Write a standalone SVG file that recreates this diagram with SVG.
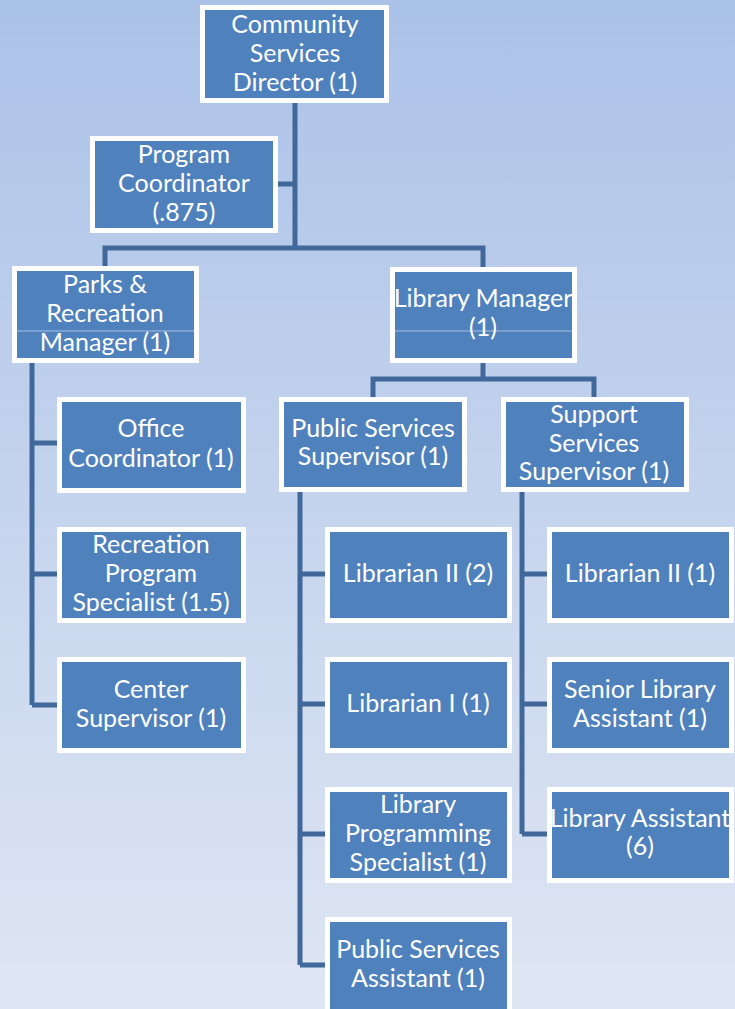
<svg xmlns="http://www.w3.org/2000/svg" width="735" height="1009" viewBox="0 0 735 1009">
<defs>
<linearGradient id="bg" x1="0" y1="0" x2="0" y2="1">
<stop offset="0" stop-color="#abc2e8"/>
<stop offset="1" stop-color="#dfe6f3"/>
</linearGradient>
</defs>
<style>
.box{fill:#4f81bd;stroke:#ffffff;stroke-width:5}
.sep{stroke:#a7c0e4;stroke-width:1}
.lbl{font-family:Lato,"Liberation Sans",sans-serif;font-size:25px;fill:#ffffff;text-anchor:middle}
.con{fill:none;stroke:#41689a;stroke-width:5;stroke-linejoin:miter}
</style>
<rect width="735" height="1009" fill="url(#bg)"/>
<g id="connectors">
<path class="con" d="M295 100 V248 M278 184 H295 M105 266 V248 H483 V267"/>
<path class="con" d="M483 361 V379 M373 397 V379 H594 V397"/>
<path class="con" d="M32 361 V705 M32 443 H57 M32 574 H57 M32 705 H57"/>
<path class="con" d="M300 490 V965 M300 574 H325 M300 704 H325 M300 834 H325 M300 965 H325"/>
<path class="con" d="M522 490 V834 M522 574 H547 M522 704 H547 M522 834 H547"/>
</g>
<g id="director"><rect class="box" x="202.5" y="7.5" width="184" height="93"/>
<text class="lbl" x="295" y="33">Community</text><text class="lbl" x="295" y="62">Services</text><text class="lbl" x="295" y="91">Director (1)</text></g>
<g id="program-coordinator"><rect class="box" x="92.5" y="138.5" width="183" height="92"/>
<text class="lbl" x="184" y="163">Program</text><text class="lbl" x="184" y="192">Coordinator</text><text class="lbl" x="184" y="221">(.875)</text></g>
<g id="parks-manager"><rect class="box" x="14.5" y="268.5" width="182" height="92"/>
<line class="sep" x1="17" y1="331" x2="194" y2="331"/>
<text class="lbl" x="105" y="293">Parks &amp;</text><text class="lbl" x="105" y="322">Recreation</text><text class="lbl" x="105" y="351">Manager (1)</text></g>
<g id="library-manager"><rect class="box" x="392.5" y="269.5" width="182" height="91"/>
<line class="sep" x1="395" y1="331" x2="572" y2="331"/>
<text class="lbl" x="483" y="307">Library Manager</text><text class="lbl" x="483" y="336">(1)</text></g>
<g id="public-services-supervisor"><rect class="box" x="281.5" y="399.5" width="183" height="90"/>
<text class="lbl" x="373" y="437">Public Services</text><text class="lbl" x="373" y="465">Supervisor (1)</text></g>
<g id="support-services-supervisor"><rect class="box" x="503.5" y="399.5" width="183" height="90"/>
<text class="lbl" x="594" y="423">Support</text><text class="lbl" x="594" y="452">Services</text><text class="lbl" x="594" y="480">Supervisor (1)</text></g>
<g id="office-coordinator"><rect class="box" x="59.5" y="399.5" width="184" height="91"/>
<text class="lbl" x="151" y="437">Office</text><text class="lbl" x="151" y="467">Coordinator (1)</text></g>
<g id="recreation-program-specialist"><rect class="box" x="59.5" y="529.5" width="184" height="91"/>
<text class="lbl" x="151" y="553">Recreation</text><text class="lbl" x="151" y="582">Program</text><text class="lbl" x="151" y="611">Specialist (1.5)</text></g>
<g id="center-supervisor"><rect class="box" x="59.5" y="659.5" width="184" height="91"/>
<text class="lbl" x="151" y="698">Center</text><text class="lbl" x="151" y="727">Supervisor (1)</text></g>
<g id="librarian-ii-2"><rect class="box" x="327.5" y="529.5" width="182" height="91"/>
<text class="lbl" x="418" y="582">Librarian II (2)</text></g>
<g id="librarian-i"><rect class="box" x="327.5" y="659.5" width="182" height="91"/>
<text class="lbl" x="418" y="712">Librarian I (1)</text></g>
<g id="library-programming-specialist"><rect class="box" x="327.5" y="789.5" width="182" height="91"/>
<text class="lbl" x="418" y="813">Library</text><text class="lbl" x="418" y="842">Programming</text><text class="lbl" x="418" y="871">Specialist (1)</text></g>
<g id="public-services-assistant"><rect class="box" x="327.5" y="919.5" width="182" height="95"/>
<text class="lbl" x="418" y="958">Public Services</text><text class="lbl" x="418" y="987">Assistant (1)</text></g>
<g id="librarian-ii-1"><rect class="box" x="549.5" y="529.5" width="182" height="91"/>
<text class="lbl" x="640" y="582">Librarian II (1)</text></g>
<g id="senior-library-assistant"><rect class="box" x="549.5" y="659.5" width="182" height="91"/>
<text class="lbl" x="640" y="698">Senior Library</text><text class="lbl" x="640" y="727">Assistant (1)</text></g>
<g id="library-assistant"><rect class="box" x="549.5" y="789.5" width="182" height="91"/>
<text class="lbl" x="640" y="827">Library Assistant</text><text class="lbl" x="640" y="855">(6)</text></g>
</svg>
